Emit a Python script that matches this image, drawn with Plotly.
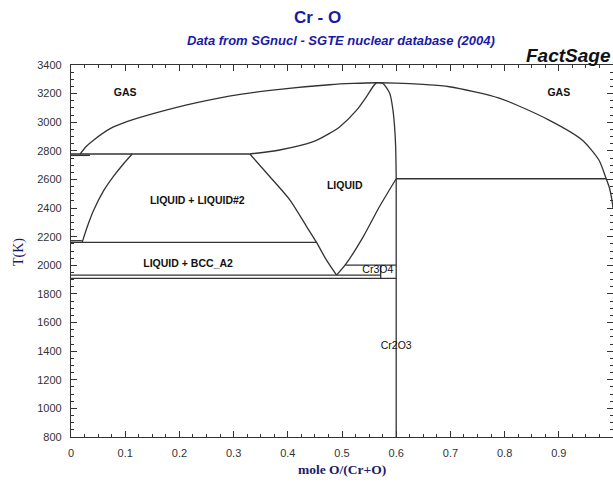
import plotly.graph_objects as go

# ---- data (mole fraction O, temperature K) ----
gas_x = [0.017, 0.028, 0.042, 0.073, 0.103, 0.165, 0.226, 0.312, 0.385, 0.477, 0.520, 0.563,
         0.600, 0.650, 0.698, 0.790, 0.882, 0.943, 0.974, 0.987, 0.993, 0.998, 1.0]
gas_T = [2778, 2830, 2876, 2957, 3004, 3074, 3132, 3195, 3230, 3262, 3271, 3276,
         3274, 3264, 3248, 3169, 3015, 2876, 2736, 2610, 2547, 2456, 2400]

bubble_x = [0.330, 0.385, 0.447, 0.477, 0.496, 0.527, 0.545, 0.557, 0.563]
bubble_T = [2778, 2806, 2864, 2922, 2969, 3085, 3178, 3248, 3276]

oxliq_x = [0.563, 0.575, 0.588, 0.594, 0.597, 0.599, 0.600]
oxliq_T = [3276, 3272, 3202, 3085, 2969, 2829, 2605]

gapL_x = [0.0206, 0.030, 0.042, 0.060, 0.079, 0.097, 0.113]
gapL_T = [2160, 2269, 2386, 2520, 2625, 2710, 2778]

gapR_x = [0.330, 0.367, 0.404, 0.435, 0.453, 0.470, 0.490]
gapR_T = [2778, 2619, 2456, 2269, 2160, 2045, 1931]

liqR_x = [0.490, 0.508, 0.539, 0.569, 0.600]
liqR_T = [1931, 2013, 2199, 2409, 2605]

# invariant / compound lines: (x0, x1, T0, T1)
seg_x0 = [0.0, 0.0, 0.0, 0.0, 0.0, 0.0, 0.506, 0.5714, 0.600, 0.600]
seg_x1 = [0.330, 0.035, 0.453, 0.020, 0.5714, 0.600, 0.600, 0.5714, 0.600, 0.987]
seg_T0 = [2778, 2768, 2160, 2172, 1931, 1908, 2001, 1908, 800, 2605]
seg_T1 = [2778, 2768, 2160, 2172, 1931, 1908, 2001, 2001, 2605, 2605]

label_text = ["GAS", "GAS", "LIQUID", "LIQUID + LIQUID#2", "LIQUID + BCC_A2", "Cr3O4", "Cr2O3"]
label_x = [0.100, 0.900, 0.505, 0.233, 0.216, 0.566, 0.600]
label_T = [3200, 3200, 2554, 2449, 2010, 1965, 1435]
label_bold = [True, True, True, True, True, False, False]

x_ticks = [0, 0.1, 0.2, 0.3, 0.4, 0.5, 0.6, 0.7, 0.8, 0.9, 1.0]
x_ticktext = ["0", "0.1", "0.2", "0.3", "0.4", "0.5", "0.6", "0.7", "0.8", "0.9", "1"]

LINE = dict(color="#333333", width=1.3)

fig = go.Figure()
for xs, ts in [(gas_x, gas_T), (bubble_x, bubble_T), (oxliq_x, oxliq_T),
               (gapL_x, gapL_T), (gapR_x, gapR_T), (liqR_x, liqR_T)]:
    fig.add_trace(go.Scatter(x=xs, y=ts, mode="lines", line=dict(LINE, shape="spline", smoothing=0.7),
                             hoverinfo="skip", showlegend=False))
for a, b, c, d in zip(seg_x0, seg_x1, seg_T0, seg_T1):
    fig.add_trace(go.Scatter(x=[a, b], y=[c, d], mode="lines", line=LINE,
                             hoverinfo="skip", showlegend=False))

fig.add_trace(go.Scatter(
    x=label_x, y=label_T, mode="text",
    text=[f"<b>{t}</b>" if b else t for t, b in zip(label_text, label_bold)],
    textfont=dict(family="Arial, Liberation Sans", size=10.5, color="#111"),
    hoverinfo="skip", showlegend=False))

W, H = 613, 484
L, R, T, B = 71, 0, 65, 47

def px(xp):
    return (xp - L) / (W - L - R)

def py(yp):
    return (H - B - yp) / (H - T - B)

fig.update_layout(
    width=W, height=H, autosize=False,
    margin=dict(l=L, r=R, t=T, b=B),
    paper_bgcolor="white", plot_bgcolor="white",
    xaxis=dict(range=[0, 1], tickvals=x_ticks, ticktext=x_ticktext,
               ticks="inside", ticklen=6, tickcolor="#333", showline=True,
               linecolor="#333", linewidth=1.2, mirror="ticks", showgrid=False,
               zeroline=False, ticklabelstandoff=6,
               tickfont=dict(family="Arial, Liberation Sans", size=11, color="#333"),
               minor=dict(dtick=0.025, ticks="inside", ticklen=3, tickcolor="#333", showgrid=False)),
    yaxis=dict(range=[800, 3400], dtick=200, tick0=800,
               ticks="inside", ticklen=6, tickcolor="#333", showline=True,
               linecolor="#333", linewidth=1.2, mirror="ticks", showgrid=False,
               zeroline=False, ticklabelstandoff=6,
               tickfont=dict(family="Arial, Liberation Sans", size=11, color="#333"),
               minor=dict(dtick=50, ticks="inside", ticklen=3, tickcolor="#333", showgrid=False)),
    annotations=[
        dict(text="<b>Cr - O</b>", x=px(317), y=py(18), xref="paper", yref="paper",
             yanchor="middle", showarrow=False,
             font=dict(family="Arial, Liberation Sans", size=17, color="#1a1aa8")),
        dict(text="<b><i>Data from SGnucl - SGTE nuclear database (2004)</i></b>",
             x=px(341), y=py(40), xref="paper", yref="paper", yanchor="middle", showarrow=False,
             font=dict(family="Arial, Liberation Sans", size=13, color="#1a1aa8")),
        dict(text="<b><i>FactSage</i></b>", x=1.0, y=py(55), xref="paper", yref="paper",
             xanchor="right", yanchor="middle", showarrow=False,
             font=dict(family="Arial, Liberation Sans", size=19, color="#111")),
        dict(text="<b>mole O/(Cr+O)</b>", x=px(342), y=py(470), xref="paper", yref="paper",
             yanchor="middle", showarrow=False,
             font=dict(family="Liberation Serif, Times New Roman", size=13.5, color="#1c1c6c")),
        dict(text="T(K)", x=px(19), y=py(252), xref="paper", yref="paper", textangle=-90,
             xanchor="center", yanchor="middle", showarrow=False,
             font=dict(family="Liberation Serif, Times New Roman", size=14, color="#1c1c6c")),
    ],
)

fig.write_html("out.html")
